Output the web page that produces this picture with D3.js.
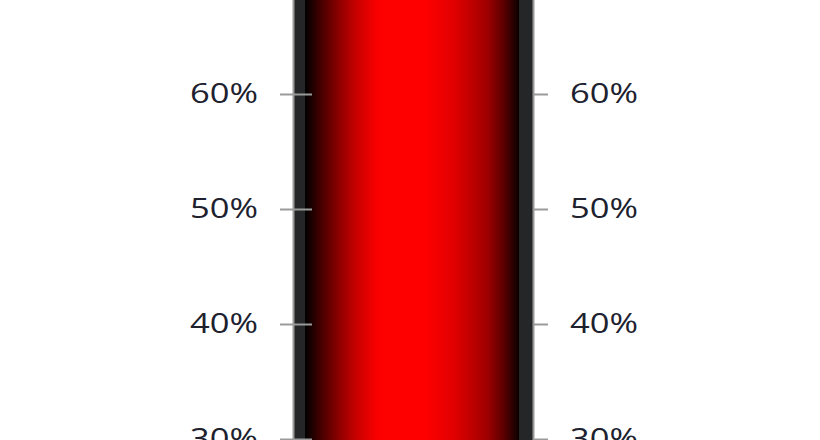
<!DOCTYPE html>
<html>
<head>
<meta charset="utf-8">
<script src="https://cdn.jsdelivr.net/npm/d3@7"></script>
<style>
  html, body { margin: 0; padding: 0; background: #fff; overflow: hidden; }
  svg { display: block; }
</style>
</head>
<body>
<svg id="chart" width="820" height="440"></svg>
<script>
// ---- data ----
const categories = ["Progress"];
const values = [0.8];
const tickValues = [0.3, 0.4, 0.5, 0.6, 0.7];
const tickLabels = ["30%", "40%", "50%", "60%", "70%"];

// ---- layout ----
const svg = d3.select("#chart");
const W = 820, H = 440;

const y = d3.scaleLinear().domain([0, 1]).range([784, -366]);
const x = d3.scaleBand().domain(categories).range([293, 533]).padding(0);

const defs = svg.append("defs");
const grad = defs.append("linearGradient")
  .attr("id", "barGrad").attr("x1", "0%").attr("x2", "100%").attr("y1", "0%").attr("y2", "0%");
[[0, "#000000"], [0.08, "#4a0000"], [0.16, "#8e0000"], [0.24, "#c80000"], [0.34, "#fc0000"],
 [0.56, "#ff0000"], [0.70, "#e00000"], [0.85, "#a00000"], [0.93, "#5a0000"], [1, "#0a0000"]]
  .forEach(([o, c]) => grad.append("stop").attr("offset", o).attr("stop-color", c));

const borderL = 12, borderR = 14;
const bars = svg.append("g");
bars.selectAll("rect.outer").data(categories).join("rect")
  .attr("class", "outer")
  .attr("x", d => x(d))
  .attr("width", x.bandwidth())
  .attr("y", (d, i) => y(values[i]))
  .attr("height", (d, i) => y(0) - y(values[i]))
  .attr("fill", "#252627");
bars.selectAll("rect.inner").data(categories).join("rect")
  .attr("class", "inner")
  .attr("x", d => x(d) + borderL)
  .attr("width", x.bandwidth() - borderL - borderR)
  .attr("y", (d, i) => y(values[i]) + borderL)
  .attr("height", (d, i) => y(0) - y(values[i]) - borderL)
  .attr("fill", "url(#barGrad)");

const fmt = d => tickLabels[tickValues.indexOf(d)];
const axisColor = "#9a9a9a";
const textColor = "#20212e";

function styleAxis(g) {
  g.select(".domain").attr("stroke", axisColor).attr("stroke-width", 2);
  g.selectAll(".tick line").attr("stroke", axisColor).attr("stroke-width", 2);
  g.selectAll(".tick text")
    .attr("fill", textColor)
    .style("font-family", "'Open Sans', 'DejaVu Sans', sans-serif")
    .style("font-size", "28px")
    .attr("textLength", 68)
    .attr("lengthAdjust", "spacingAndGlyphs");
}

const leftAxis = svg.append("g")
  .attr("transform", `translate(${x.range()[0]},0)`)
  .call(d3.axisLeft(y).tickValues(tickValues).tickFormat(fmt).tickSize(13).tickSizeOuter(0).tickPadding(22));
styleAxis(leftAxis);
leftAxis.selectAll(".tick line").attr("x1", 19);

const rightAxis = svg.append("g")
  .attr("transform", `translate(${x.range()[1]},0)`)
  .call(d3.axisRight(y).tickValues(tickValues).tickFormat(fmt).tickSize(15).tickSizeOuter(0).tickPadding(22));
styleAxis(rightAxis);
</script>
</body>
</html>
